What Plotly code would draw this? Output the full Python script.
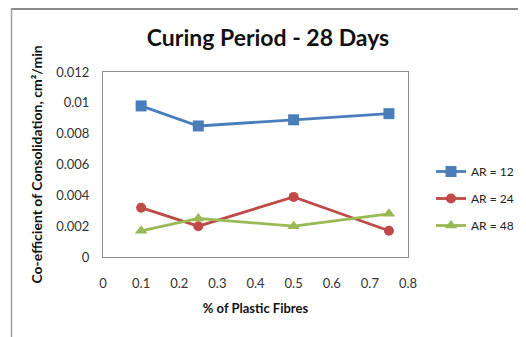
import plotly.graph_objects as go

x_vals = [0.1, 0.25, 0.5, 0.75]
ar12 = [0.0098, 0.0085, 0.0089, 0.0093]
ar24 = [0.0032, 0.0020, 0.0039, 0.0017]
ar48 = [0.0017, 0.0025, 0.0020, 0.0028]
names = ["AR = 12", "AR = 24", "AR = 48"]
colors = ["#4A7EBB", "#BE4B48", "#98B954"]
symbols = ["square", "circle", "triangle-up"]

FONT = "Lato"
fig = go.Figure()
for i, (ys, nm) in enumerate(zip([ar12, ar24, ar48], names)):
    fig.add_trace(go.Scatter(
        x=x_vals, y=ys, name=nm, mode="lines+markers", legendgroup=nm,
        line=dict(color=colors[i], width=2.8),
        marker=dict(symbol=symbols[i], size=11 if i != 1 else 10, color=colors[i]),
    ))

# the page body adds an 8px margin; lay the figure out in reference pixels minus 8
OFF = 8
W, H = 526 - OFF, 337 - OFF
L, R, T, B = 103 - OFF, 526 - 408, 72 - OFF, 337 - 257
pw, ph = W - L - R, H - T - B

def px_x(p):
    return (p - OFF - L) / pw

def px_y(p):
    return (H - B - (p - OFF)) / ph

fig.update_layout(
    width=W, height=H,
    margin=dict(l=L, r=R, t=T, b=B, autoexpand=False),
    paper_bgcolor="white", plot_bgcolor="white",
    font=dict(family=FONT, color="#222", size=12),
    title=dict(text="<b>Curing Period - 28 Days</b>", x=(268 - OFF) / W, xanchor="center",
               y=1 - (38 - OFF) / H, yanchor="middle", font=dict(size=23, color="#111")),
    xaxis=dict(range=[0, 0.8], dtick=0.1, tick0=0, showgrid=False, zeroline=False,
               showline=True, linecolor="#8c8c8c", mirror=True, linewidth=1,
               ticks="", ticklabelstandoff=14, tickfont=dict(size=13, color="#333"),
               automargin=False,
               title=dict(text="<b>% of Plastic Fibres</b>", font=dict(size=13, color="#111"),
                          standoff=14)),
    yaxis=dict(range=[0, 0.012], dtick=0.002, tick0=0, showgrid=False, zeroline=False,
               showline=True, linecolor="#8c8c8c", mirror=True, linewidth=1,
               ticks="", tickformat="~g", ticklabelstandoff=10,
               tickfont=dict(size=13, color="#333"), automargin=False,
               title=dict(text="<b>Co-efficient of Consolidation, cm²/min</b>",
                          font=dict(size=14, color="#111"), standoff=10)),
    legend=dict(x=px_x(431), xanchor="left", y=px_y(157), yanchor="top",
                font=dict(size=12, color="#222"), tracegroupgap=8,
                traceorder="grouped", bgcolor="rgba(0,0,0,0)"),
    shapes=[
        dict(type="line", xref="paper", yref="paper",
             x0=px_x(11), x1=px_x(526), y0=px_y(9), y1=px_y(9),
             line=dict(color="#8a8a8a", width=2)),
        dict(type="line", xref="paper", yref="paper",
             x0=px_x(11.5), x1=px_x(11.5), y0=px_y(345), y1=px_y(8),
             line=dict(color="#a0a0a0", width=1.5)),
        dict(type="line", xref="paper", yref="paper",
             x0=px_x(524), x1=px_x(524), y0=px_y(345), y1=px_y(9),
             line=dict(color="#e0e0e0", width=1)),
    ],
)

fig.write_html("out.html")
